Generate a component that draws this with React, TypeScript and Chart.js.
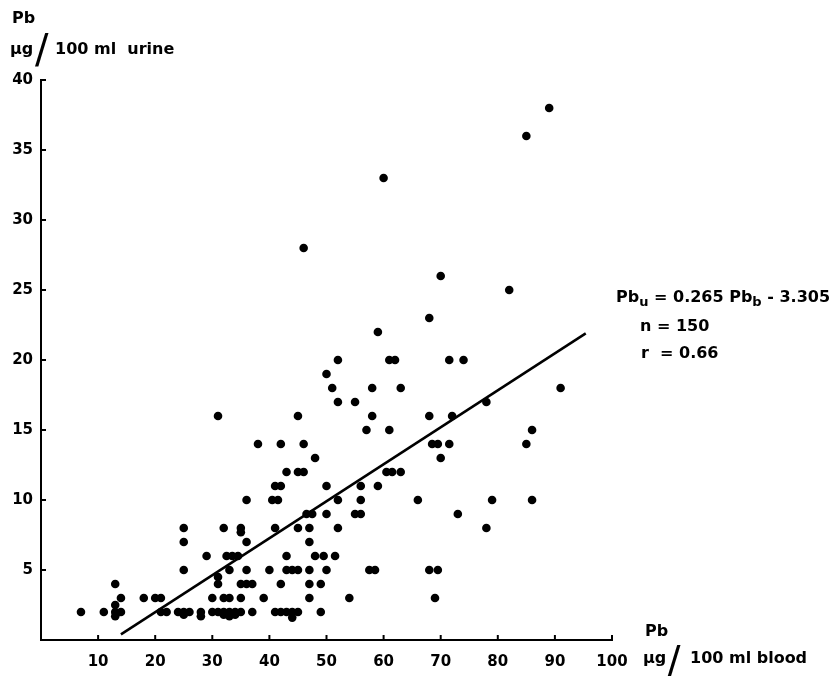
import { useEffect, useRef } from "react";
import { Chart, registerables } from "chart.js";

Chart.register(...registerables);

// Pb in blood (µg/100 ml) for each subject
const bloodPb = [
  7, 11, 13, 13, 14, 21, 22, 24, 25, 26, 25, 28, 28, 30, 31, 32, 33, 34, 35, 32, 33, 34, 37, 41, 42, 43, 44, 45, 44, 49,
  13,
  14, 18, 20, 21, 30, 32, 33, 35, 39, 47, 54, 69,
  13, 31, 31, 35, 36, 37, 42, 47, 49,
  25, 33, 36, 40, 43, 44, 45, 47, 50, 57.5, 58.5, 68, 69.5,
  29, 32.5, 33.5, 34.5, 43, 48, 49.5, 51.5,
  25, 36, 47,
  25, 32, 35, 35, 41, 45, 47, 52, 78,
  46.5, 47.5, 50, 55, 56, 73,
  36, 40.5, 41.5, 52, 56, 66, 79, 86,
  41, 42, 50, 56, 59,
  43, 45, 46, 60.5, 61.5, 63,
  48, 70,
  38, 42, 46, 68.5, 69.5, 71.5, 85,
  57, 61, 86,
  31, 45, 58, 68, 72,
  52, 55, 78,
  51, 58, 63, 91,
  50,
  52, 61, 62, 71.5, 74,
  59, 68, 82, 70, 46, 60, 85, 89,
];

// Pb in urine (µg/100 ml) for the same subjects
const urinePb = [
  2, 2, 2, 1.7, 2, 2, 2, 2, 2, 2, 1.8, 2, 1.7, 2, 2, 2, 2, 2, 2, 1.8, 1.7, 1.8, 2, 2, 2, 2, 2, 2, 1.6, 2,
  2.5,
  3, 3, 3, 3, 3, 3, 3, 3, 3, 3, 3, 3,
  4, 4, 4.5, 4, 4, 4, 4, 4, 4,
  5, 5, 5, 5, 5, 5, 5, 5, 5, 5, 5, 5, 5,
  6, 6, 6, 6, 6, 6, 6, 6,
  7, 7, 7,
  8, 8, 8, 7.7, 8, 8, 8, 8, 8,
  9, 9, 9, 9, 9, 9,
  10, 10, 10, 10, 10, 10, 10, 10,
  11, 11, 11, 11, 11,
  12, 12, 12, 12, 12, 12,
  13, 13,
  14, 14, 14, 14, 14, 14, 14,
  15, 15, 15,
  16, 16, 16, 16, 16,
  17, 17, 17,
  18, 18, 18, 18,
  19,
  20, 20, 20, 20, 20,
  22, 23, 25, 26, 28, 33, 36, 38,
];

// Regression line Pb_u = 0.265 Pb_b - 3.305, end points as drawn
const fitBlood = [14, 95.4];
const fitUrine = [0.4, 21.9];

const xTickStep = 10;
const yTickStep = 5;

const FONT = "'DejaVu Sans', sans-serif";

const inwardTicks = {
  id: "inwardTicks",
  afterDraw(chart: any) {
    const ctx = chart.ctx;
    const xs = chart.scales.x;
    const ys = chart.scales.y;
    const area = chart.chartArea;
    ctx.save();
    ctx.strokeStyle = "#000";
    ctx.lineWidth = 2;
    xs.ticks.forEach((t: any) => {
      if (t.value === 0) return;
      const px = xs.getPixelForValue(t.value);
      ctx.beginPath();
      ctx.moveTo(px, area.bottom);
      ctx.lineTo(px, area.bottom - 5);
      ctx.stroke();
    });
    ys.ticks.forEach((t: any) => {
      if (t.value === 0) return;
      const py = ys.getPixelForValue(t.value);
      ctx.beginPath();
      ctx.moveTo(area.left, py);
      ctx.lineTo(area.left + 5, py);
      ctx.stroke();
    });
    ctx.restore();
  },
};

function ChartCanvas() {
  const ref = useRef<HTMLCanvasElement | null>(null);
  useEffect(() => {
    if (!ref.current) return;
    const points = bloodPb.map((x, i) => ({ x, y: urinePb[i] }));
    const fit = fitBlood.map((x, i) => ({ x, y: fitUrine[i] }));
    const chart = new Chart(ref.current, {
      type: "scatter",
      data: {
        datasets: [
          {
            type: "scatter",
            data: points,
            pointRadius: 4.3,
            pointBackgroundColor: "#000",
            pointBorderWidth: 0,
            pointHoverRadius: 4.3,
          },
          {
            type: "line",
            data: fit,
            borderColor: "#000",
            borderWidth: 2.5,
            pointRadius: 0,
            fill: false,
          },
        ],
      },
      options: {
        animation: false,
        responsive: false,
        maintainAspectRatio: false,
        layout: { padding: { top: 80, right: 228, left: 0, bottom: 0 } },
        plugins: { legend: { display: false }, tooltip: { enabled: false } },
        scales: {
          x: {
            type: "linear",
            position: "bottom",
            min: 0,
            max: 100,
            grid: { display: false, drawTicks: false },
            border: { display: true, color: "#000", width: 2 },
            ticks: {
              stepSize: xTickStep,
              padding: 13,
              color: "#000",
              font: { family: FONT, size: 15, weight: "bold" },
              autoSkip: false,
              maxRotation: 0,
              callback: (v: any) => (v === 0 ? "" : String(v)),
            },
            afterFit: (s: any) => {
              s.height = 36;
            },
          },
          y: {
            type: "linear",
            min: 0,
            max: 40,
            grid: { display: false, drawTicks: false },
            border: { display: true, color: "#000", width: 2 },
            ticks: {
              stepSize: yTickStep,
              padding: 8,
              color: "#000",
              font: { family: FONT, size: 15, weight: "bold" },
              autoSkip: false,
              callback: (v: any) => (v === 0 ? "" : String(v)),
            },
            afterFit: (s: any) => {
              s.width = 41;
            },
          },
        },
      },
      plugins: [inwardTicks],
    } as any);
    return () => chart.destroy();
  }, []);
  return <canvas ref={ref} width={840} height={676} style={{ position: "absolute", left: 0, top: 0 }} />;
}

const txt = (left: number, top: number, size: number, weight: any = "bold"): any => ({
  position: "absolute",
  left,
  top,
  fontFamily: FONT,
  fontSize: size,
  fontWeight: weight,
  lineHeight: 1,
  whiteSpace: "nowrap",
  color: "#000",
});

const subStyle: any = { fontSize: 13, verticalAlign: -4 };

export default function App() {
  return (
    <div style={{ position: "fixed", left: 0, top: 0, width: 840, height: 676, background: "#fff", overflow: "hidden" }}>
      <ChartCanvas />
      {/* y axis title */}
      <div style={txt(12, 10, 16)}>Pb</div>
      <div style={txt(10, 41, 16)}>µg</div>
      <div style={txt(35, 29, 40, "normal")}>/</div>
      <div style={txt(55, 41, 16)}>100 ml&nbsp; urine</div>
      {/* x axis title */}
      <div style={txt(645, 623, 16)}>Pb</div>
      <div style={txt(643, 650, 16)}>µg</div>
      <div style={txt(667, 641, 40, "normal")}>/</div>
      <div style={txt(690, 650, 16)}>100 ml blood</div>
      {/* regression annotation */}
      <div style={txt(616, 289, 16)}>
        Pb<sub style={subStyle}>u</sub> = 0.265 Pb<sub style={subStyle}>b</sub> - 3.305
      </div>
      <div style={txt(640, 318, 16)}>n = 150</div>
      <div style={txt(641, 345, 16)}>r&nbsp; = 0.66</div>
    </div>
  );
}
